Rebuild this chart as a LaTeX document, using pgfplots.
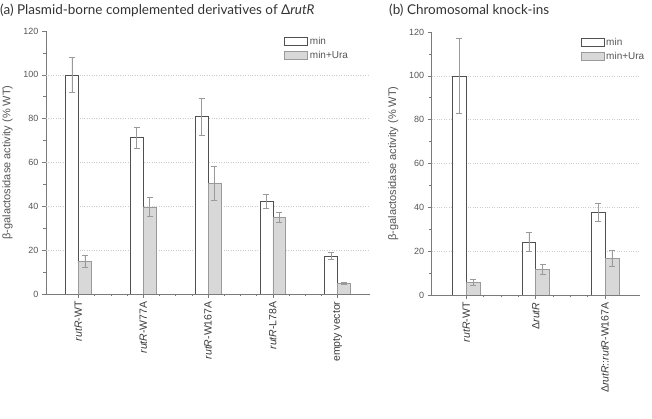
\documentclass[border=0pt]{standalone}
\usepackage{pgfplots}
\pgfplotsset{compat=1.18}
\usepackage{fontspec}
\setmainfont{Liberation Sans}
\newfontfamily\titlefont{Lato}
\definecolor{axgray}{HTML}{7A7A7A}
\definecolor{txtgray}{HTML}{555555}
\definecolor{barfill}{HTML}{D8D8D8}
\definecolor{baredge}{HTML}{9A9A9A}
\definecolor{minedge}{HTML}{505050}
\definecolor{errgray}{HTML}{9A9A9A}
\pgfplotsset{
 panel/.style={
  scale only axis, axis x line*=bottom, axis y line*=left,
  axis line style={axgray, line width=0.6pt},
  ymin=0, ymax=120, ytick={0,20,...,120}, minor y tick num=1,
  tick style={axgray, line width=0.5pt},
  major tick length=4pt, minor tick length=2.5pt,
  tick align=outside,
  /pgf/number format/assume math mode=true,
  y tick label style={font=\fontsize{9}{10}\selectfont, text=txtgray},
  x tick label style={font=\fontsize{10.5}{11}\selectfont, text=txtgray!70!black, rotate=90, anchor=east},
  minor x tick num=3,
  extra y ticks={20,40,60,80,100}, extra y tick labels={},
  extra y tick style={ymajorgrids=true, major tick length=0pt, grid style={dotted, gray!40, line width=0.4pt}},
  ylabel={β-galactosidase activity (\% WT)},
  ylabel style={font=\fontsize{11}{12}\selectfont, text=txtgray},
  ybar, bar width=0.2,
  legend style={draw=none, fill=none, font=\fontsize{10}{11}\selectfont, text=txtgray, inner sep=0pt, row sep=1pt, cells={anchor=west}},
  legend image code/.code={\draw[#1] (0pt,-4pt) rectangle (23pt,4pt);},
  error bars/y dir=both, error bars/y explicit,
  error bars/error bar style={errgray, line width=0.5pt},
  error bars/error mark options={rotate=90, errgray, mark size=3pt, line width=0.5pt},
 },
 minbar/.style={fill=white, draw=minedge, line width=0.6pt, bar shift=-0.1},
 urabar/.style={fill=barfill, draw=baredge, line width=0.6pt, bar shift=0.1},
}
\begin{document}
\begin{tikzpicture}
\path[use as bounding box] (0pt,0pt) rectangle (652pt,419pt);
\node[anchor=west, inner sep=0pt, text=black!80, font=\titlefont\fontsize{13.5}{15}\selectfont] at (0pt,409pt) {(a) Plasmid-borne complemented derivatives of Δ\textit{rutR}};
\node[anchor=west, inner sep=0pt, text=black!80, font=\titlefont\fontsize{13.5}{15}\selectfont] at (389pt,409pt) {(b) Chromosomal knock-ins};
\begin{axis}[panel, at={(46pt,125pt)}, anchor=south west, width=324pt, height=263pt,
  xmin=-0.5, xmax=4.5, xtick={0,1,2,3,4},
  xticklabels={\textit{rutR}-WT, \textit{rutR}-W77A, \textit{rutR}-W167A, \textit{rutR}-L78A, empty vector},
  legend style={at={(axis description cs:0.735,0.985)}, anchor=north west}]
\addplot[minbar] table[x=x, y=y, y error=e] {
x y e
0 100 7.8
1 71.4 4.9
2 81.0 8.4
3 42.3 3.2
4 17.3 1.6
};
\addlegendentry{min}
\addplot[urabar] table[x=x, y=y, y error=e] {
x y e
0 14.9 2.7
1 39.7 4.4
2 50.5 7.7
3 35.0 2.4
4 5.0 0.5
};
\addlegendentry{min+Ura}
\end{axis}
\begin{axis}[panel, at={(431.7pt,124pt)}, anchor=south west, width=208pt, height=263pt,
  xmin=-0.5, xmax=2.5, xtick={0,1,2},
  xticklabels={\textit{rutR}-WT, Δ\textit{rutR}, Δ\textit{rutR}::\textit{rutR}-W167A},
  legend style={at={(axis description cs:0.715,0.985)}, anchor=north west}]
\addplot[minbar] table[x=x, y=y, y error=e] {
x y e
0 100 17
1 24.2 4.3
2 37.8 4.0
};
\addlegendentry{min}
\addplot[urabar] table[x=x, y=y, y error=e] {
x y e
0 5.8 1.4
1 11.7 2.3
2 16.6 3.7
};
\addlegendentry{min+Ura}
\end{axis}
\end{tikzpicture}
\end{document}
